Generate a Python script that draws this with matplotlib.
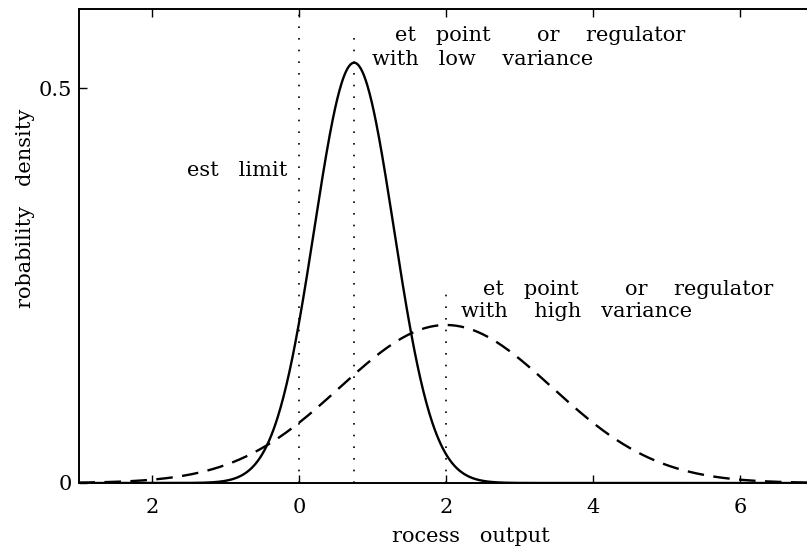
import numpy as np
import matplotlib
matplotlib.use("Agg")
import matplotlib.pyplot as plt

# ---- data ----
low_mean, low_sigma, low_peak = 0.75, 0.54, 0.532     # regulator with low variance
high_mean, high_sigma, high_peak = 2.0, 1.44, 0.2     # regulator with high variance
marker_x = [0.0, 0.75, 2.0]          # dotted vertical markers (test limit, set points)
marker_top = [0.6, 0.57, 0.25]
xticks = [-2, 0, 2, 4, 6]
xticklabels = ["2", "0", "2", "4", "6"]
yticks = [0, 0.5]
yticklabels = ["0", "0.5"]

plt.rcParams['font.family'] = ['DejaVu Serif']

fig = plt.figure(figsize=(8.07, 5.46), dpi=100)
ax = fig.add_axes([78.5/807, 63/546, 735/807, 474/546])

x = np.linspace(-3, 7, 1001)
def bell(x, m, s, a):
    return a*np.exp(-0.5*((x-m)/s)**2)

ax.plot(x, bell(x, low_mean, low_sigma, low_peak), color='black', lw=1.7)
ax.plot(x, bell(x, high_mean, high_sigma, high_peak), color='black', lw=1.7, dashes=(7, 4))

for xm, yt in zip(marker_x, marker_top):
    ax.plot([xm, xm], [0, yt], color='black', lw=1.2, linestyle=(0, (1, 6)))

fs = 15
ax.set_xlim(-3, 7)
ax.set_ylim(0, 0.6)
ax.set_xticks(xticks)
ax.set_xticklabels(xticklabels, fontsize=fs)
ax.set_yticks(yticks)
ax.set_yticklabels(yticklabels, fontsize=fs)
ax.tick_params(direction='in', length=6, width=1, top=True, right=False)
ax.tick_params(axis='x', pad=11)
ax.tick_params(axis='y', pad=5)
for sp in ax.spines.values():
    sp.set_linewidth(1.4)

ax.text(-0.163, 0.389, "est   limit", ha='right', va='baseline', fontsize=fs)
ax.text(1.30, 0.5595, "et   point       or    regulator", ha='left', va='baseline', fontsize=fs)
ax.text(1.00, 0.529, "with   low    variance", ha='left', va='baseline', fontsize=fs)
ax.text(2.50, 0.238, "et   point       or    regulator", ha='left', va='baseline', fontsize=fs)
ax.text(2.21, 0.210, "with    high   variance", ha='left', va='baseline', fontsize=fs)

fig.text(471/807, 1-537/546, "rocess   output", ha='center', va='center', fontsize=fs)
fig.text(26/807, 1-208/546, "robability   density", ha='center', va='center', rotation=90, fontsize=fs)

fig.savefig("out.png", dpi=100)
